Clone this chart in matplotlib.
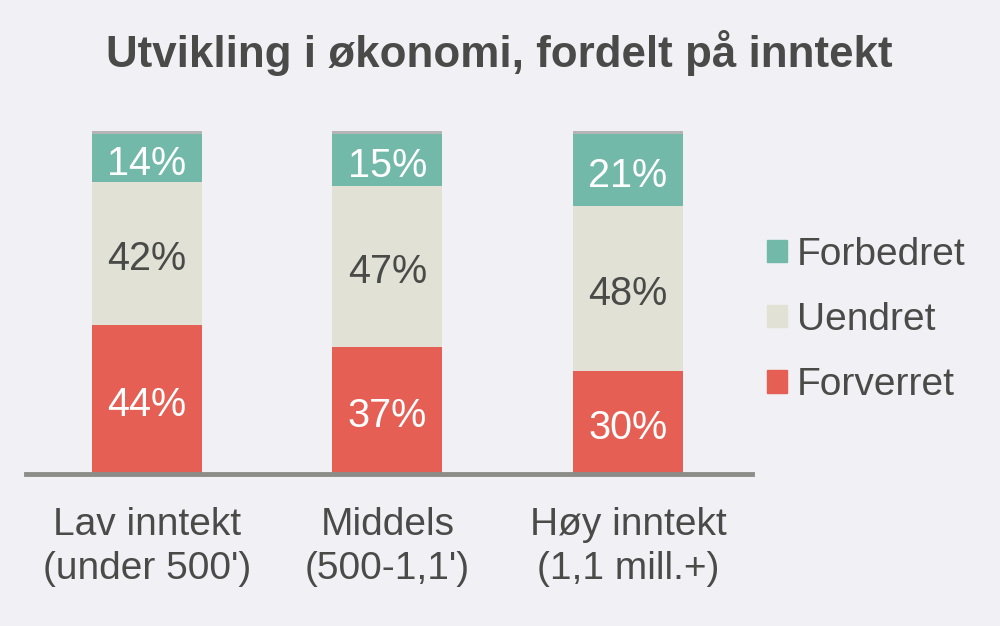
import matplotlib.pyplot as plt
from matplotlib.patches import Patch

# Data
kategorier = ["Lav inntekt\n(under 500')", "Middels\n(500-1,1')", "Høy inntekt\n(1,1 mill.+)"]
forverret = [44, 37, 30]
uendret = [42, 47, 48]
forbedret = [14, 15, 21]
vet_ikke = [1, 1, 1]

bg = '#F1F0F5'
tekst = '#4A4A48'
farger = {'Forbedret': '#72B9A9', 'Uendret': '#E1E1D6', 'Forverret': '#E65F55'}

plt.rcParams['font.family'] = ['Liberation Sans', 'DejaVu Sans']

# 100 % stablet: skaler hver søyle til summen
totaler = [a + b + c + d for a, b, c, d in zip(forverret, uendret, forbedret, vet_ikke)]
def andel(serie):
    return [v / t * 100 for v, t in zip(serie, totaler)]

h1, h2, h3, h4 = andel(forverret), andel(uendret), andel(forbedret), andel(vet_ikke)

fig = plt.figure(figsize=(10, 6.26), dpi=100, facecolor=bg)
ax = fig.add_axes([0.026, 0.2428, 0.726, 0.5479])
ax.set_facecolor(bg)

x = range(len(kategorier))
bredde = 0.457

ax.bar(x, h1, bredde, color=farger['Forverret'])
bunn2 = h1
ax.bar(x, h2, bredde, bottom=bunn2, color=farger['Uendret'])
bunn3 = [a + b for a, b in zip(h1, h2)]
ax.bar(x, h3, bredde, bottom=bunn3, color=farger['Forbedret'])
bunn4 = [a + b for a, b in zip(bunn3, h3)]
ax.bar(x, h4, bredde, bottom=bunn4, color='#B4B4B4')

# Etiketter i søylene
def etikett(xi, yi, tekststreng, farge):
    ax.annotate(tekststreng, (xi, yi), xytext=(0, -4), textcoords='offset points',
                ha='center', va='center', color=farge, fontsize=28.5)

for i in x:
    etikett(i, h1[i] / 2, f'{forverret[i]}%', 'white')
    etikett(i, bunn2[i] + h2[i] / 2, f'{uendret[i]}%', tekst)
    etikett(i, bunn3[i] + h3[i] / 2, f'{forbedret[i]}%', 'white')

ax.set_xlim(-0.503, 2.516)
ax.set_ylim(0, 100)
for s in ['top', 'right', 'left']:
    ax.spines[s].set_visible(False)
ax.spines['bottom'].set_color('#8C8C88')
ax.spines['bottom'].set_linewidth(3.5)
ax.set_yticks([])
ax.set_xticks(list(x))
ax.set_xticklabels(kategorier, fontsize=28, color=tekst, linespacing=1.26)
ax.tick_params(axis='x', length=0, pad=24)

# Forklaring
handles = [Patch(color=farger[k]) for k in ['Forbedret', 'Uendret', 'Forverret']]
fig.legend(handles, ['Forbedret', 'Uendret', 'Forverret'], loc='center left',
           bbox_to_anchor=(0.732, 0.489), frameon=False, fontsize=28,
           labelcolor=tekst, handlelength=0.52, handleheight=0.52,
           handletextpad=0.25, labelspacing=0.75)

fig.text(0.499, 0.915, 'Utvikling i økonomi, fordelt på inntekt', ha='center', va='center',
         fontsize=31.6, fontweight='bold', color=tekst)

fig.savefig('out.png', facecolor=bg)
